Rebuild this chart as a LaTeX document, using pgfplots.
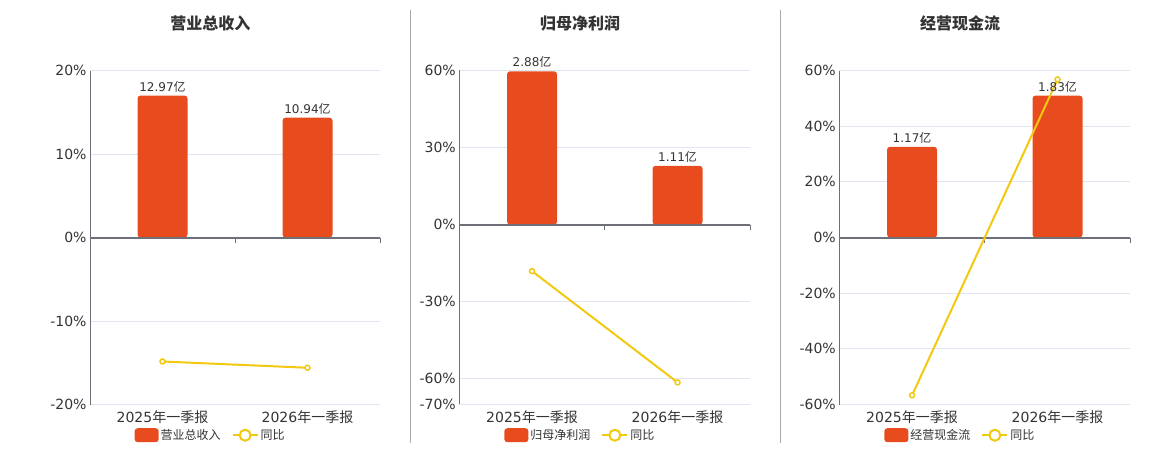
\documentclass[border=0pt]{standalone}
\usepackage{fontspec}
\setmainfont{DejaVu Sans}
\newfontfamily\cjk{Noto Sans CJK SC}
\usepackage{pgfplots}
\pgfplotsset{compat=1.18}
\definecolor{barc}{HTML}{E84C1E}
\definecolor{linec}{HTML}{F2C811}
\definecolor{axc}{HTML}{6E7079}
\definecolor{gridc}{HTML}{E0E6F1}
\definecolor{txt}{HTML}{333333}
\definecolor{sepc}{HTML}{AAAAAA}
\pgfplotsset{
  panel/.style={
    scale only axis, width=291bp, height=334bp,
    xmin=-0.5, xmax=1.5,
    axis x line*=bottom, axis y line*=left,
    x axis line style={draw=none},
    y axis line style={draw=axc, line width=1bp},
    xtick={0,1},
    xticklabels={2025{\cjk 年一季报},2026{\cjk 年一季报}},
    major tick length=0pt,
    ymajorgrids, grid style={gridc, line width=1bp},
    ticklabel style={text=txt},
    xticklabel style={font=\fontsize{14bp}{14bp}\selectfont, yshift=-3bp},
    yticklabel style={font=\fontsize{14bp}{14bp}\selectfont},
    clip=false,
    legend columns=2,
    legend style={at={(0.416,-0.092)}, anchor=center, draw=none, fill=none,
      font=\fontsize{12bp}{12bp}\selectfont, text=txt, inner sep=0pt,
      /tikz/every even column/.append style={column sep=9bp}},
    title style={at={(0.415,1.14)}, anchor=center, yshift=-6pt,
      font=\fontsize{16bp}{16bp}\selectfont\bfseries, text=txt},
  },
  barplot/.style={ybar, bar width=50bp, bar shift=0pt, fill=barc, draw=none,
    rounded corners=3bp,
    point meta=explicit symbolic,
    nodes near coords={\pgfplotspointmeta{\cjk 亿}},
    every node near coord/.append style={font=\fontsize{12bp}{12bp}\selectfont, text=txt, rounded corners=0pt},
    legend image code/.code={\fill[barc, rounded corners=3bp] (0bp,-7bp) rectangle (24bp,7bp);}},
  lineplot/.style={linec, line width=2bp, mark=*, mark size=2.5bp,
    mark options={fill=white, draw=linec, line width=1.5bp},
    legend image code/.code={\draw[linec, line width=2bp] (0bp,0bp)--(25bp,0bp);
      \draw[linec, line width=2bp, fill=white] (12.5bp,0bp) circle (5.5bp);}},
}
\newcommand{\zeroline}{%
  \draw[axc, line width=2bp] (axis cs:-0.5,0) -- (axis cs:1.5,0);
  \draw[axc, line width=1bp] (axis cs:0.5,0) -- ([yshift=-5bp]axis cs:0.5,0);
  \draw[axc, line width=1bp] (axis cs:1.5,0) -- ([yshift=-5bp]axis cs:1.5,0);
}
\begin{document}
\begin{tikzpicture}
\path[use as bounding box] (0,0) rectangle (1160bp,450bp);
\draw[sepc, line width=1bp] (410bp,7bp) -- (410bp,440bp);
\draw[sepc, line width=1bp] (780bp,7bp) -- (780bp,440bp);

% Panel 1
\begin{axis}[panel, at={(90bp,45.5bp)}, anchor=south west, width=290bp,
  ymin=-20, ymax=20, ytick={-20,-10,0,10,20},
  yticklabels={-20\%,-10\%,0\%,10\%,20\%},
  title={\cjk\bfseries 营业总收入}]
\addplot[barplot] coordinates {(0,17.0) [12.97] (1,14.35) [10.94]};
\addlegendentry{\cjk 营业总收入}
\zeroline
\addplot[lineplot] coordinates {(0,-14.85) (1,-15.6)};
\addlegendentry{\cjk 同比}
\end{axis}

% Panel 2
\begin{axis}[panel, at={(459.3bp,45.5bp)}, anchor=south west,
  ymin=-70, ymax=60, ytick={-70,-60,-30,0,30,60},
  yticklabels={-70\%,-60\%,-30\%,0\%,30\%,60\%},
  title={\cjk\bfseries 归母净利润}]
\addplot[barplot] coordinates {(0,59.7) [2.88] (1,22.9) [1.11]};
\addlegendentry{\cjk 归母净利润}
\zeroline
\addplot[lineplot] coordinates {(0,-18.1) (1,-61.4)};
\addlegendentry{\cjk 同比}
\end{axis}

% Panel 3
\begin{axis}[panel, at={(839.3bp,45.5bp)}, anchor=south west,
  ymin=-60, ymax=60, ytick={-60,-40,-20,0,20,40,60},
  yticklabels={-60\%,-40\%,-20\%,0\%,20\%,40\%,60\%},
  title={\cjk\bfseries 经营现金流}]
\addplot[barplot] coordinates {(0,32.6) [1.17] (1,51.0) [1.83]};
\addlegendentry{\cjk 经营现金流}
\zeroline
\addplot[lineplot] coordinates {(0,-56.7) (1,56.8)};
\addlegendentry{\cjk 同比}
\end{axis}
\end{tikzpicture}
\end{document}
